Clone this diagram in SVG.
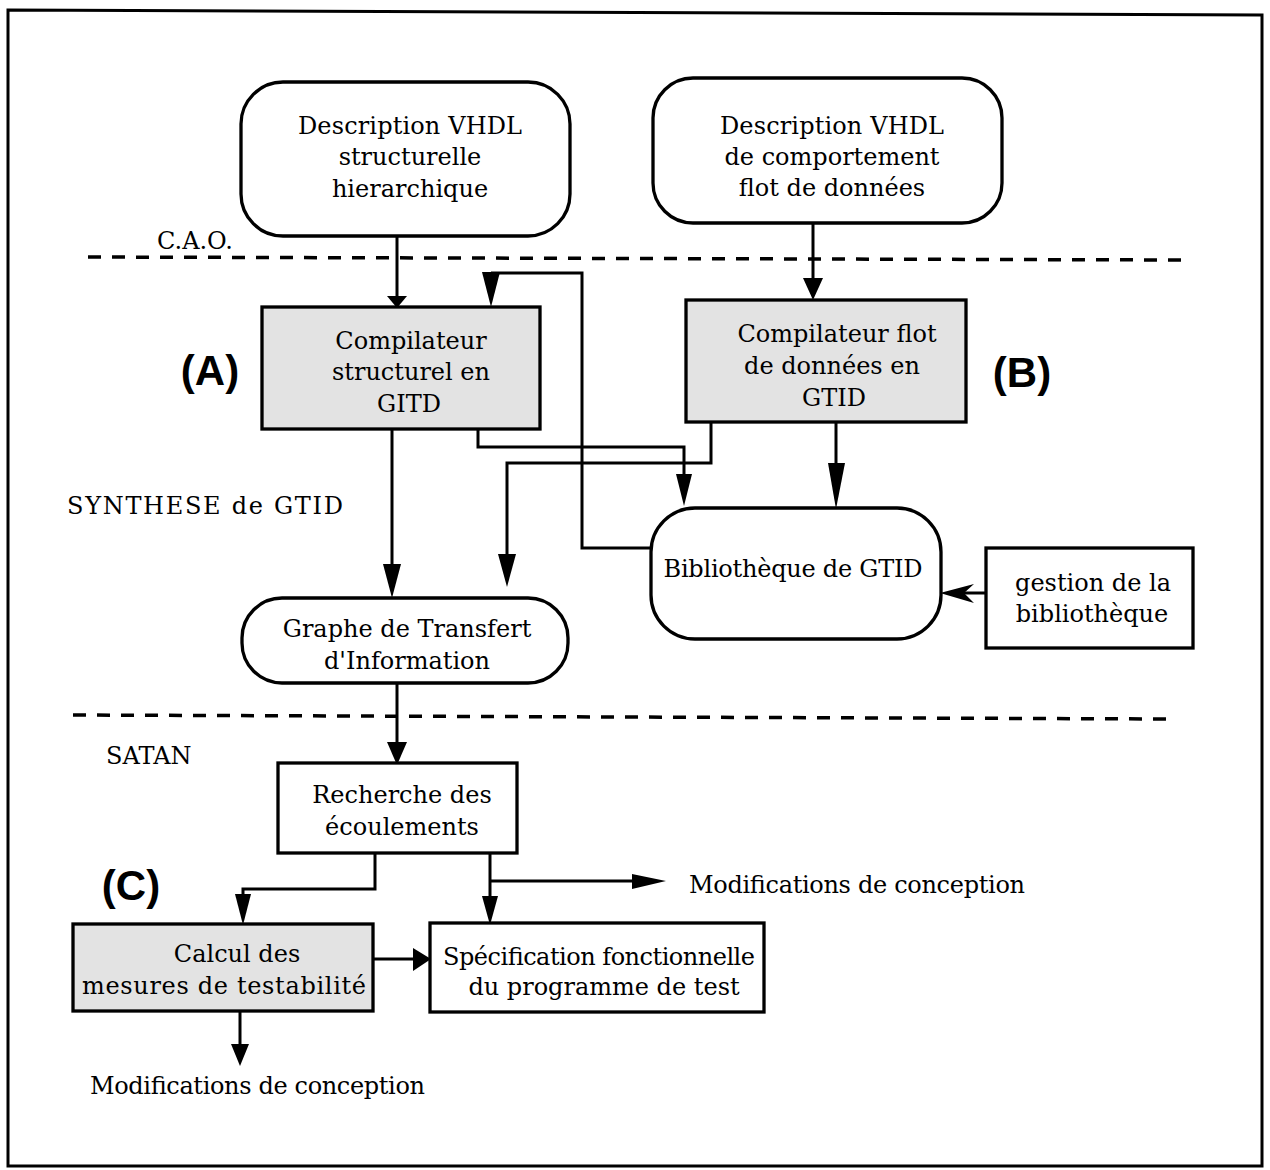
<svg xmlns="http://www.w3.org/2000/svg" width="1270" height="1170" viewBox="0 0 1270 1170">
<style>
.box{fill:#fff;stroke:#000;stroke-width:3.3}
.shade{fill:#e3e3e3;stroke:#000;stroke-width:3.3}
.t{font-family:"DejaVu Serif","Liberation Serif",serif;font-size:24px;fill:#000;text-anchor:middle}
.tl{font-family:"DejaVu Serif","Liberation Serif",serif;font-size:24px;fill:#000}
.big{font-family:"Liberation Sans","DejaVu Sans",sans-serif;font-size:42px;font-weight:bold;fill:#000;text-anchor:middle}
.ln{fill:none;stroke:#000;stroke-width:3}
.dash{fill:none;stroke:#000;stroke-width:3.5;stroke-dasharray:13 11}
.hd{fill:#000;stroke:none}
</style>
<rect x="0" y="0" width="1270" height="1170" fill="#fff"/>
<path d="M8,10 L1262,15 L1262,1166 L8,1166 Z" fill="none" stroke="#000" stroke-width="3"/>

<g id="separators">
<line class="dash" x1="88" y1="257" x2="1185" y2="260"/>
<line class="dash" x1="73" y1="715" x2="1172" y2="719"/>
</g>

<g id="labels">
<text class="tl" x="157" y="249">C.A.O.</text>
<text class="tl" x="67" y="514" textLength="276">SYNTHESE de GTID</text>
<text class="tl" x="106" y="764">SATAN</text>
<text class="big" x="210" y="385">(A)</text>
<text class="big" x="1022" y="387">(B)</text>
<text class="big" x="131" y="900">(C)</text>
</g>

<g id="connectors">
<line class="ln" x1="397" y1="236" x2="397" y2="298"/>
<polygon class="hd" points="387,296 407,296 397,308"/>
<line class="ln" x1="813" y1="223" x2="813" y2="280"/>
<polygon class="hd" points="803,278 823,278 813,300"/>
<polyline class="ln" points="652,548 582,548 582,273 491,273"/>
<polygon class="hd" points="482,272 500,272 491,307"/>
<polyline class="ln" points="478,430 478,447 684,447 684,476"/>
<polygon class="hd" points="676,474 692,474 684,506"/>
<polyline class="ln" points="711,423 711,463 507,463 507,556"/>
<polygon class="hd" points="498,554 516,554 507,587"/>
<line class="ln" x1="836" y1="422" x2="836" y2="465"/>
<polygon class="hd" points="828,463 845,463 836,509"/>
<line class="ln" x1="986" y1="593" x2="962" y2="593"/>
<path class="hd" d="M940,593 L974,584 L964,593 L974,603 Z"/>
<line class="ln" x1="392" y1="429" x2="392" y2="566"/>
<polygon class="hd" points="383,564 401,564 392,598"/>
<line class="ln" x1="397" y1="683" x2="397" y2="744"/>
<polygon class="hd" points="387,742 407,742 397,765"/>
<polyline class="ln" points="375,853 375,889 243,889 243,896"/>
<polygon class="hd" points="235,894 251,894 243,925"/>
<line class="ln" x1="490" y1="853" x2="490" y2="898"/>
<polygon class="hd" points="482,896 498,896 490,925"/>
<line class="ln" x1="490" y1="881" x2="633" y2="881"/>
<polygon class="hd" points="632,874 632,889 666,881"/>
<line class="ln" x1="373" y1="959" x2="414" y2="959"/>
<polygon class="hd" points="413,948 413,971 431,959"/>
<line class="ln" x1="240" y1="1011" x2="240" y2="1046"/>
<polygon class="hd" points="231,1044 249,1044 240,1066"/>
</g>

<g id="desc-struct">
<rect class="box" x="241" y="82" width="329" height="154" rx="42"/>
<text class="t" x="410" y="134" textLength="224">Description VHDL</text>
<text class="t" x="410" y="165">structurelle</text>
<text class="t" x="410" y="197">hierarchique</text>
</g>

<g id="desc-comport">
<rect class="box" x="653" y="78" width="349" height="145" rx="40"/>
<text class="t" x="832" y="134" textLength="224">Description VHDL</text>
<text class="t" x="832" y="165">de comportement</text>
<text class="t" x="832" y="196">flot de données</text>
</g>

<g id="compil-A">
<rect class="shade" x="262" y="307" width="278" height="122"/>
<text class="t" x="411" y="349">Compilateur</text>
<text class="t" x="411" y="380">structurel en</text>
<text class="t" x="409" y="412">GITD</text>
</g>

<g id="compil-B">
<rect class="shade" x="686" y="300" width="280" height="122"/>
<text class="t" x="837" y="342">Compilateur flot</text>
<text class="t" x="832" y="374">de données en</text>
<text class="t" x="834" y="406">GTID</text>
</g>

<g id="biblio">
<rect class="box" x="651" y="508" width="290" height="131" rx="44"/>
<text class="t" x="793" y="577" textLength="259">Bibliothèque de GTID</text>
</g>

<g id="gestion">
<rect class="box" x="986" y="548" width="207" height="100"/>
<text class="t" x="1093" y="591">gestion de la</text>
<text class="t" x="1092" y="622">bibliothèque</text>
</g>

<g id="graphe">
<rect class="box" x="242" y="598" width="326" height="85" rx="40"/>
<text class="t" x="407" y="637">Graphe de Transfert</text>
<text class="t" x="407" y="669">d'Information</text>
</g>

<g id="recherche">
<rect class="box" x="278" y="763" width="239" height="90"/>
<text class="t" x="402" y="803">Recherche des</text>
<text class="t" x="402" y="835">écoulements</text>
</g>

<g id="calcul">
<rect class="shade" x="73" y="924" width="300" height="87"/>
<text class="t" x="237" y="962">Calcul des</text>
<text class="t" x="224" y="994" textLength="284">mesures de testabilité</text>
</g>

<g id="spec">
<rect class="box" x="430" y="923" width="334" height="89"/>
<text class="t" x="599" y="965" textLength="312">Spécification fonctionnelle</text>
<text class="t" x="604" y="995">du programme de test</text>
</g>

<g id="modif-right">
<text class="tl" x="689" y="893" textLength="336">Modifications de conception</text>
</g>

<g id="modif-bottom">
<text class="tl" x="90" y="1094" textLength="335">Modifications de conception</text>
</g>
</svg>
